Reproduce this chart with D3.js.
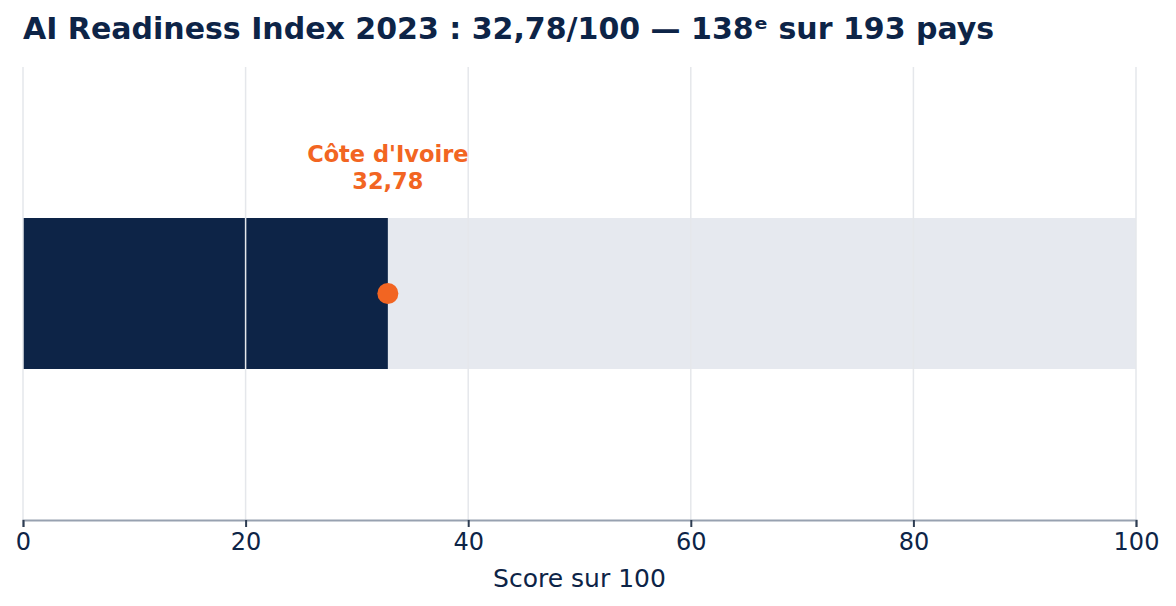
<!DOCTYPE html>
<html>
<head>
<meta charset="utf-8">
<script src="https://cdn.jsdelivr.net/npm/d3@7"></script>
<style>
  body { margin: 0; background: #fff; }
  svg { display: block; font-family: "DejaVu Sans", sans-serif; }
</style>
</head>
<body>
<div id="chart"></div>
<script>
// data
var countries = ["Côte d'Ivoire"];
var scores = [32.78];
var maxScores = [100];
var tickValues = [0, 20, 40, 60, 80, 100];
var rank = 138;
var totalCountries = 193;
var year = 2023;

function fmt(v) {
    return v.toFixed(2).replace(".", ",");
}

function init() {
    var w = 1176;
    var h = 606;
    var margin = {top: 67, right: 40, bottom: 86, left: 23};

    var svg = d3.select("#chart")
                .append("svg")
                .attr("width", w)
                .attr("height", h);

    var x = d3.scaleLinear()
              .domain([0, 100])
              .range([margin.left, w - margin.right]);

    var y = d3.scaleBand()
              .domain(countries)
              .range([margin.top, h - margin.bottom])
              .padding(0.5);

    // title
    svg.append("text")
       .attr("x", 23)
       .attr("y", 39)
       .attr("fill", "#0d2447")
       .attr("font-size", 30)
       .attr("font-weight", "bold")
       .text("AI Readiness Index " + year + " : " + fmt(scores[0]) + "/" + maxScores[0] +
             " — " + rank + "ᵉ sur " + totalCountries + " pays");

    // background bar (full scale)
    svg.selectAll(".bg")
       .data(countries)
       .enter()
       .append("rect")
       .attr("x", x(0))
       .attr("y", function(d) { return y(d); })
       .attr("width", function(d, i) { return x(maxScores[i]) - x(0); })
       .attr("height", y.bandwidth())
       .attr("fill", "#e6e9ef");

    // score bar
    svg.selectAll(".bar")
       .data(countries)
       .enter()
       .append("rect")
       .attr("x", x(0))
       .attr("y", function(d) { return y(d); })
       .attr("width", function(d, i) { return x(scores[i]) - x(0); })
       .attr("height", y.bandwidth())
       .attr("fill", "#0d2447");

    // gridlines on top
    svg.append("g")
       .selectAll("line")
       .data(tickValues)
       .enter()
       .append("line")
       .attr("x1", function(d) { return x(d); })
       .attr("x2", function(d) { return x(d); })
       .attr("y1", margin.top)
       .attr("y2", h - margin.bottom)
       .attr("stroke", "#e5e7eb")
       .attr("stroke-width", 1.5);

    // marker
    svg.selectAll(".dot")
       .data(countries)
       .enter()
       .append("circle")
       .attr("cx", function(d, i) { return x(scores[i]); })
       .attr("cy", function(d) { return y(d) + y.bandwidth() / 2; })
       .attr("r", 10.5)
       .attr("fill", "#f26522");

    // annotation
    var ann = svg.selectAll(".ann")
       .data(countries)
       .enter()
       .append("text")
       .attr("text-anchor", "middle")
       .attr("fill", "#f26522")
       .attr("font-size", 22.5)
       .attr("font-weight", "bold");
    ann.append("tspan")
       .attr("x", function(d, i) { return x(scores[i]); })
       .attr("y", 162)
       .text(function(d) { return d; });
    ann.append("tspan")
       .attr("x", function(d, i) { return x(scores[i]); })
       .attr("y", 189)
       .text(function(d, i) { return fmt(scores[i]); });

    // x axis
    var axis = svg.append("g")
       .attr("transform", "translate(0," + (h - margin.bottom) + ")")
       .call(d3.axisBottom(x).tickValues(tickValues).tickSize(7).tickPadding(6));
    axis.select(".domain").attr("stroke", "#97a1b0").attr("stroke-width", 2);
    axis.selectAll(".tick line").attr("stroke", "#2e3d52").attr("stroke-width", 2);
    axis.selectAll(".tick text")
        .attr("fill", "#0d2447")
        .attr("font-size", 24)
        .attr("font-family", "DejaVu Sans, sans-serif");

    svg.append("text")
       .attr("x", (x(0) + x(100)) / 2)
       .attr("y", 587)
       .attr("text-anchor", "middle")
       .attr("fill", "#0d2447")
       .attr("font-size", 25)
       .text("Score sur 100");
}

window.onload = init;
</script>
</body>
</html>
